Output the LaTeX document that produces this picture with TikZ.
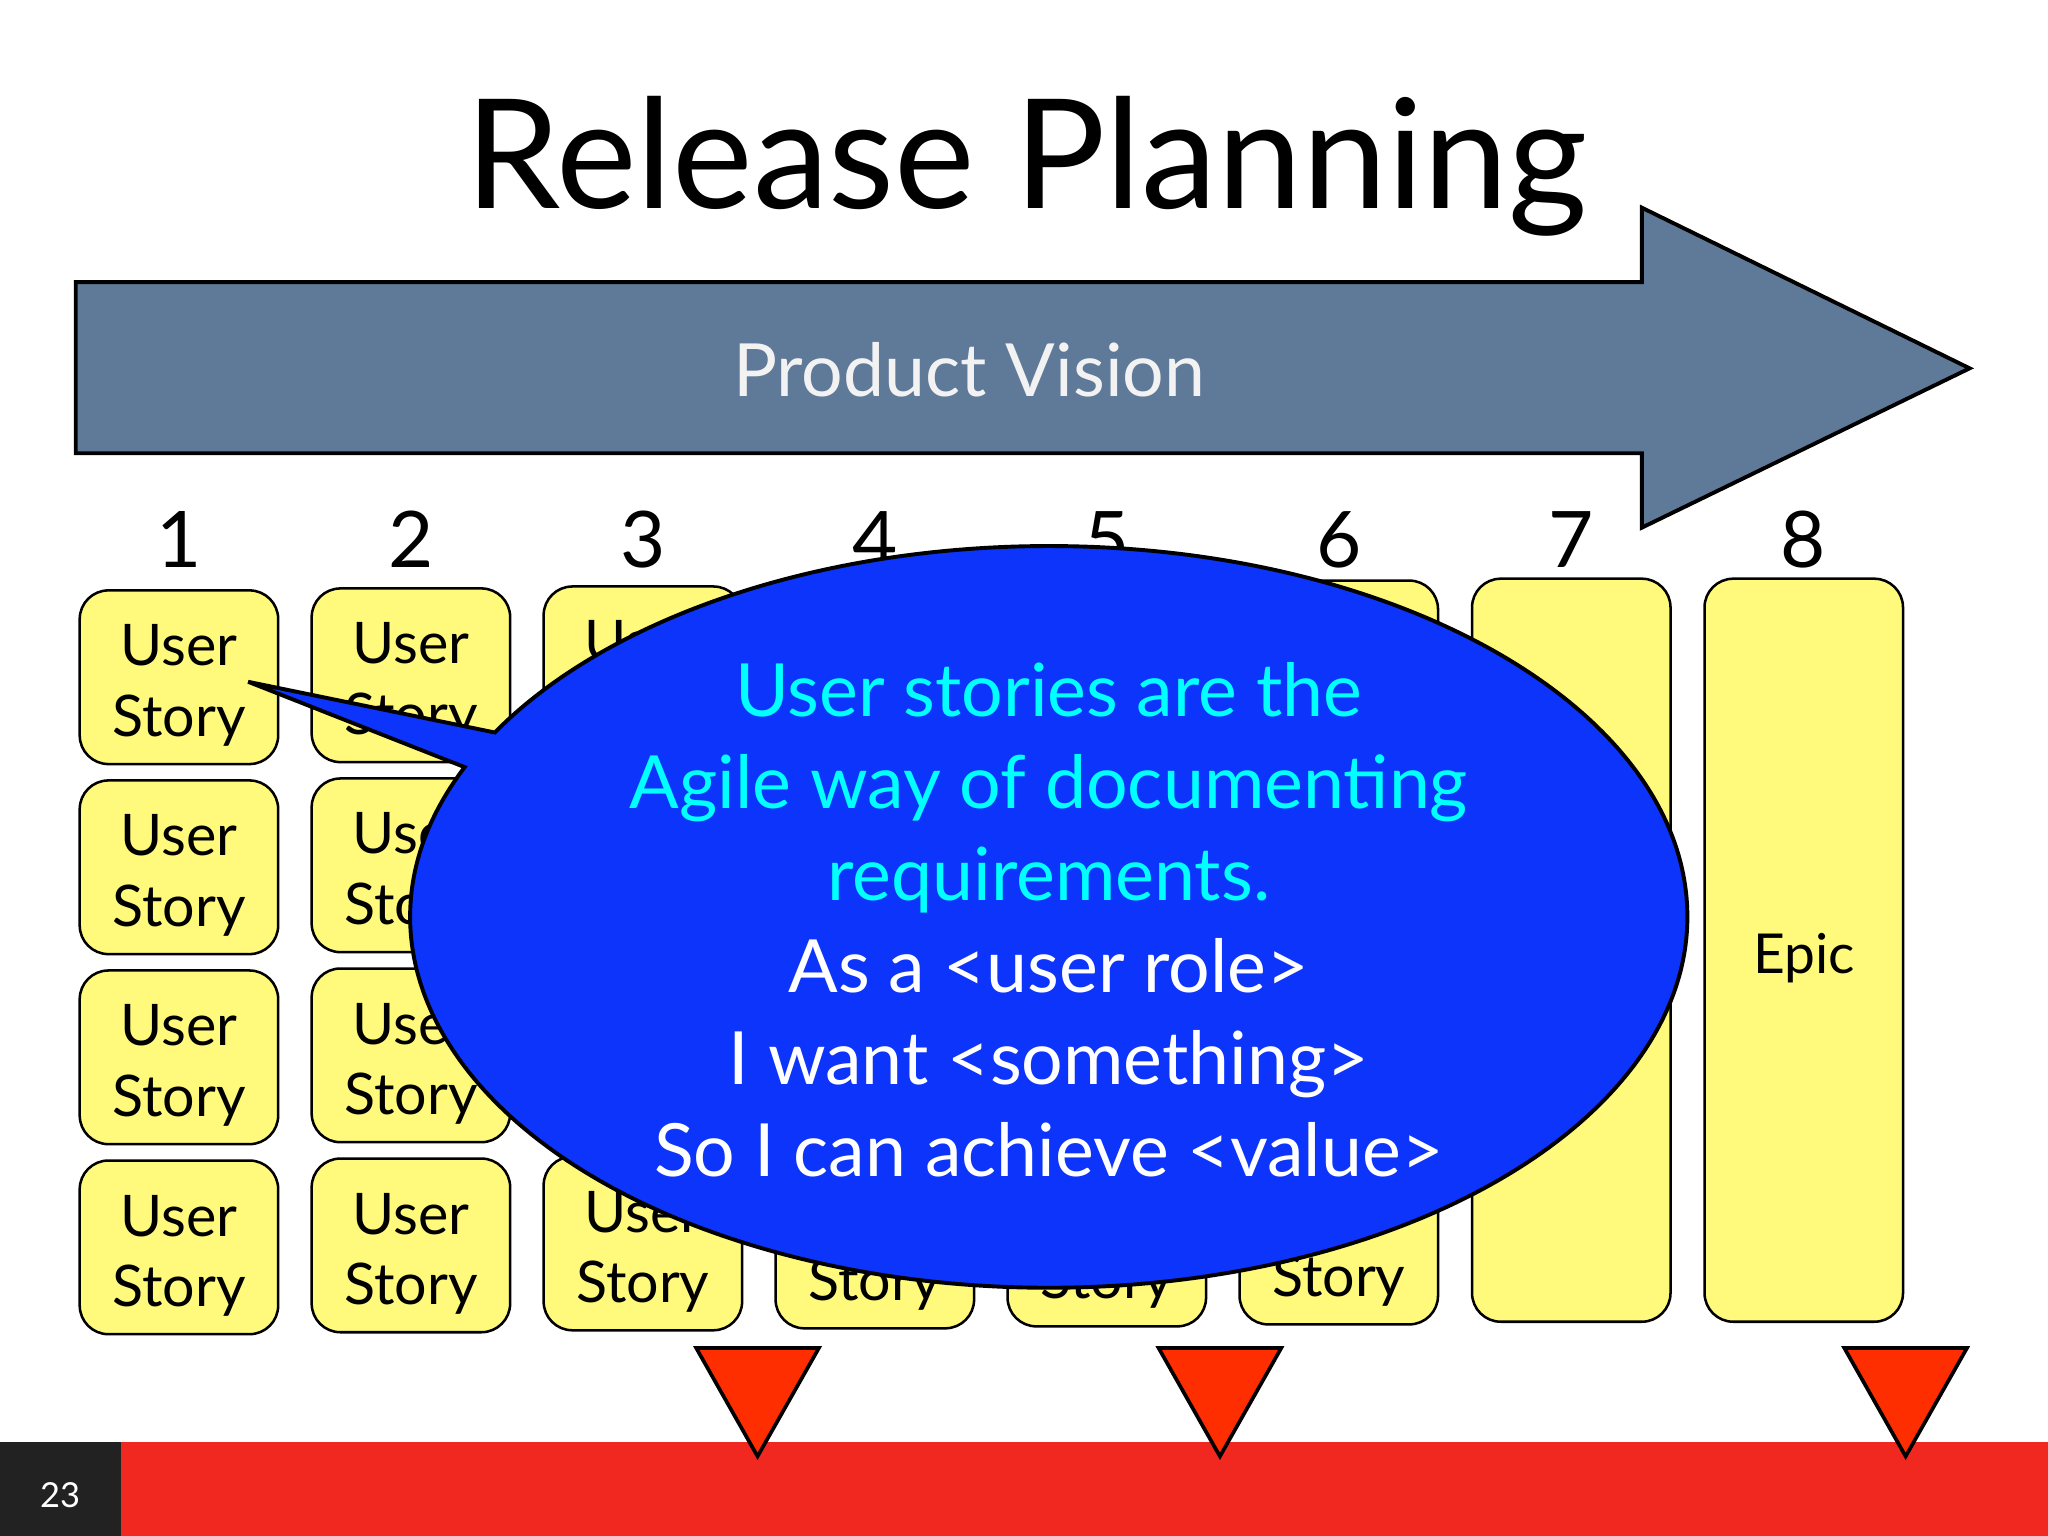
\documentclass[tikz,border=0pt]{standalone}
\usepackage{fontspec}
\usepackage{xcolor}
\setmainfont{Lato}
\usetikzlibrary{shapes.callouts}

\definecolor{noteyellow}{HTML}{FFF97C}
\definecolor{visionblue}{HTML}{5F7A99}
\definecolor{bubbleblue}{HTML}{0C34FA}
\definecolor{bubblecyan}{HTML}{00FFFF}
\definecolor{markred}{HTML}{FF2E00}
\definecolor{barred}{HTML}{F02820}
\definecolor{pagedark}{HTML}{222222}

\tikzset{
  story/.style={draw, line width=1.1pt, fill=noteyellow, rounded corners=0.44cm, align=center,
    minimum width=3.04cm, minimum height=2.66cm, inner sep=0pt,
    font=\fontsize{25}{30.6}\selectfont},
  epic/.style={story, minimum height=11.38cm, font=\fontsize{24}{30}\selectfont},
  colnum/.style={font=\fontsize{34}{40}\selectfont},
  marker/.style={draw, line width=1.6pt, fill=markred}
}

\begin{document}
\begin{tikzpicture}[x=0.02cm, y=-0.02cm]
\useasboundingbox (0, 0) rectangle (1568, 1176);

\node at (786, 127) (Title) {\fontsize{66.4}{80}\selectfont Release Planning};

% arrow
\draw[line width=1.7pt, fill=visionblue] (58, 216) -- (1257, 216) -- (1257, 159) -- (1508, 282)
  -- (1257, 404) -- (1257, 347) -- (58, 347) -- cycle;
\node[text=white!95!black] at (742, 283) (Vision) {\fontsize{32}{38}\selectfont Product Vision};

% columns
\foreach \c in {1,...,8} {
  \pgfmathsetmacro{\cx}{137 + 177.6*(\c-1)}
  \node[colnum] at (\cx, 413) (N\c) {\c};
}
\foreach \c in {1,...,6} {
  \foreach \r in {1,...,4} {
    \pgfmathsetmacro{\cx}{137 + 177.6*(\c-1)}
    \pgfmathsetmacro{\cy}{518.5 + 145.5*(\r-1) - 1.5*(\c-1)}
    \pgfmathtruncatemacro{\seen}{or(or(\c<3,\r==4),and(\c==3,\r==1))}
    \ifnum\seen=1
      \node[story] at (\cx, \cy) (S\c\r) {\rule{0pt}{25pt}User\\Story};
    \else
      \node[story] at (\cx, \cy) (S\c\r) {};
    \fi
  }
}
\node[epic] at (1203, 727.5) (E7) {};
\node[epic] at (1381, 727.5) (E8) {\rule{0pt}{24pt}Epic};

% release markers
\foreach \x [count=\i] in {533, 887, 1412} {
  \coordinate (M\i) at (\x, 1032);
}
\fill[barred] (93, 1104) rectangle (1568, 1176);
\fill[pagedark] (0, 1104) rectangle (93, 1176);
\node[text=white] at (46, 1145) (Page) {\fontsize{15}{18}\selectfont 23};
\foreach \i in {1,2,3} {
  \draw[marker] (M\i) -- ++(94, 0) -- ++(-47, 83) -- cycle;
}

% bubble
\coordinate (Tip) at (190, 522);
\node[ellipse callout, draw, line width=1.7pt, fill=bubbleblue, text=white, align=center,
  minimum width=19.56cm, minimum height=11.36cm, inner sep=0pt,
  callout absolute pointer={(Tip)}, callout pointer arc=6,
  font=\fontsize{32}{40.1}\selectfont] at (803, 702) (Bubble)
  {\rule{0pt}{26pt}\textcolor{bubblecyan}{User stories are the}\\
   \textcolor{bubblecyan}{Agile way of documenting}\\
   \textcolor{bubblecyan}{requirements.}\\
   As a <user role>\\
   I want <something>\\
   So I can achieve <value>};
\end{tikzpicture}
\end{document}
